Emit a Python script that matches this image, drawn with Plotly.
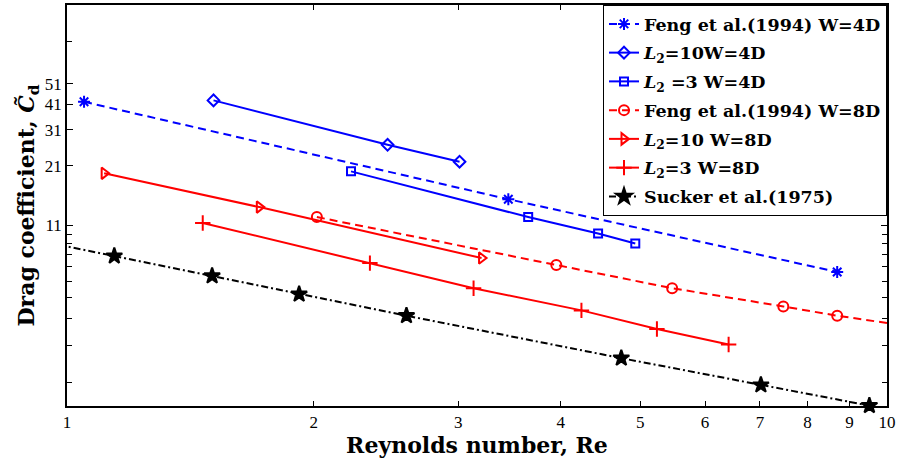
import plotly.graph_objects as go

# ---- data ----
re_feng4 = [1.049, 3.453, 8.695]
cd_feng4 = [42.0, 14.60, 6.63]

re_l10_4 = [1.509, 2.460, 3.011]
cd_l10_4 = [42.65, 26.34, 21.93]

re_l3_4 = [2.220, 3.651, 4.443, 4.932]
cd_l3_4 = [19.75, 12.03, 10.06, 9.03]

re_feng8 = [2.017, 3.951, 5.470, 7.474, 8.695, 11.0]
cd_feng8 = [12.03, 7.15, 5.56, 4.56, 4.125, 3.61]

re_l10_8 = [1.110, 1.716, 3.203]
cd_l10_8 = [19.33, 13.40, 7.71]

re_l3_8 = [1.464, 2.341, 3.132, 4.240, 5.241, 6.410]
cd_l3_8 = [11.28, 7.30, 5.56, 4.37, 3.57, 3.02]

re_sucker = [1.142, 1.503, 1.919, 2.594, 4.742, 7.018, 9.517]
cd_sucker = [7.88, 6.35, 5.21, 4.125, 2.603, 1.945, 1.555]
re_sucker_ext = [0.9, 1.142]
cd_sucker_ext = [9.49, 7.88]

x_ticks = [1, 2, 3, 4, 5, 6, 7, 8, 9, 10]
y_ticks = [11, 21, 31, 41, 51]
y_minor = [2, 3, 4, 5, 6, 7, 8, 9, 10, 81]

names = [
    "Feng et al.(1994) W=4D",
    "<i>L</i><sub>2</sub>=10W=4D",
    "<i>L</i><sub>2</sub> =3 W=4D",
    "Feng et al.(1994) W=8D",
    "<i>L</i><sub>2</sub>=10 W=8D",
    "<i>L</i><sub>2</sub>=3 W=8D",
    "Sucker et al.(1975)",
]

BLUE = "rgb(0,0,255)"
RED = "rgb(255,0,0)"
BLACK = "black"
DASH = "8px,5px"
DASHDOT = "7px,3px,2px,3px"

fig = go.Figure()

def add(x, y, name, color, dash, symbol, size, group, clip=True, legend=True, mode="lines+markers"):
    fig.add_trace(go.Scatter(
        x=x, y=y, name=name, mode=mode, showlegend=legend, cliponaxis=clip,
        legendgroup=group,
        line=dict(color=color, width=2, dash=dash),
        marker=dict(symbol=symbol, size=size, color=color,
                    line=dict(color=color, width=2)),
    ))

add(re_feng4, cd_feng4, names[0], BLUE, DASH, "asterisk-open", 10, "g1")
add(re_l10_4, cd_l10_4, names[1], BLUE, "solid", "diamond-open", 9, "g2")
add(re_l3_4, cd_l3_4, names[2], BLUE, "solid", "square-open", 8, "g3")
add(re_feng8, cd_feng8, names[3], RED, DASH, "circle-open", 10, "g4")
add(re_l10_8, cd_l10_8, names[4], RED, "solid", "triangle-right-open", 10, "g5")
add(re_l3_8, cd_l3_8, names[5], RED, "solid", "cross-thin-open", 11, "g6")
add(re_sucker_ext, cd_sucker_ext, "", BLACK, DASHDOT, "star", 12, "g7", legend=False, mode="lines")
add(re_sucker, cd_sucker, names[6], BLACK, DASHDOT, "star", 12, "g7", clip=False)

tickfont = dict(family="Liberation Serif", size=17, color="black")

fig.update_xaxes(
    type="log", range=[0, 1],
    tickvals=x_ticks, ticktext=[str(v) for v in x_ticks],
    ticks="inside", ticklen=5, tickwidth=1, tickcolor="black",
    showline=True, linecolor="black", linewidth=1.5, mirror="allticks",
    showgrid=False, zeroline=False, tickfont=tickfont,
    title=dict(text="Reynolds number, Re", standoff=7,
               font=dict(family="DejaVu Serif", size=22, weight="bold", color="black")),
)
fig.update_yaxes(
    type="log", range=[0.1900, 2.0793],
    tickvals=y_ticks, ticktext=[str(v) for v in y_ticks],
    ticks="inside", ticklen=6, tickwidth=1, tickcolor="black",
    minor=dict(tickvals=y_minor, ticks="inside", ticklen=5, tickcolor="black", showgrid=False),
    showline=True, linecolor="black", linewidth=1.5, mirror="allticks",
    showgrid=False, zeroline=False, tickfont=tickfont,
    title=dict(text="Drag coefficient, <i>C̃</i><sub>d</sub>", standoff=4,
               font=dict(family="DejaVu Serif", size=22, weight="bold", color="black")),
)

fig.update_layout(
    width=899, height=458,
    margin=dict(l=67, r=9, t=3, b=51),
    paper_bgcolor="white", plot_bgcolor="white",
    legend=dict(x=1, y=1, xanchor="right", yanchor="top",
                bordercolor="black", borderwidth=1, bgcolor="white",
                tracegroupgap=3,
                font=dict(family="DejaVu Serif", size=17.5, weight="bold", color="black")),
)

fig.write_html("out.html", config={"displayModeBar": False},
               post_script="document.body.style.margin='0';")
